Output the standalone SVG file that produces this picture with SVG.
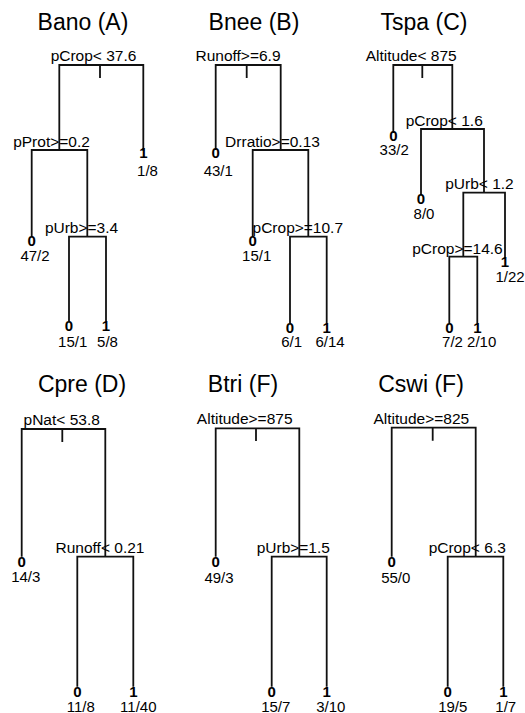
<svg xmlns="http://www.w3.org/2000/svg" width="525" height="713" viewBox="0 0 525 713">
<style>
text{font-family:"Liberation Sans",Arial,sans-serif;fill:#000;text-anchor:middle}
.t{font-size:23px}
.s{font-size:15.5px}
.c{font-size:15px;font-weight:bold}
.n{font-size:15px}
.e{fill:none;stroke:#111;stroke-width:1.8}
</style>
<rect width="525" height="713" fill="#fff"/>
<g id="titles">
<text class="t" x="83" y="30">Bano (A)</text>
<text class="t" x="254" y="30">Bnee (B)</text>
<text class="t" x="424" y="30">Tspa (C)</text>
<text class="t" x="82" y="392">Cpre (D)</text>
<text class="t" x="243" y="392">Btri (F)</text>
<text class="t" x="421" y="392">Cswi (F)</text>
</g>
<g id="connectors">
<!-- A -->
<path class="e" d="M100,65H59.3V150 M100,65H143.3V151 M100,65V78"/>
<path class="e" d="M59.5,150H31.7V236.7 M59.5,150H87.3V236.7"/>
<path class="e" d="M87.3,236.7H69V321 M87.3,236.7H106V321"/>
<!-- B -->
<path class="e" d="M246.7,65H215.7V150 M246.7,65H280.7V150 M246.7,65V78"/>
<path class="e" d="M280.7,150H252.7V236.7 M280.7,150H308.3V236.7"/>
<path class="e" d="M308.3,236.7H290V323 M308.3,236.7H326.7V323"/>
<!-- C -->
<path class="e" d="M422.3,65H393.3V133 M422.3,65H452.3V129 M422.3,65V78"/>
<path class="e" d="M452.3,129H421V195 M452.3,129H484V192.7"/>
<path class="e" d="M484,192.7H463.3V256.7 M484,192.7H505V258.3"/>
<path class="e" d="M463.3,256.7H449.3V323.3 M463.3,256.7H477.3V323.3"/>
<!-- D -->
<path class="e" d="M62.3,429H21.7V556.7 M62.3,429H105.3V556.7 M62.3,429V442"/>
<path class="e" d="M105.3,556.7H77.3V686.7 M105.3,556.7H133.3V686.7"/>
<!-- Btri -->
<path class="e" d="M256,428.3H215.7V556.7 M256,428.3H299.3V556.7 M256,428.3V441"/>
<path class="e" d="M299.3,556.7H271.7V686.7 M299.3,556.7H326.7V686.7"/>
<!-- Cswi -->
<path class="e" d="M432.7,427.7H391.7V556.7 M432.7,427.7H475.7V556.7 M432.7,427.7V440.7"/>
<path class="e" d="M475.7,556.7H447.7V686.7 M475.7,556.7H503.3V686.7"/>
</g>
<!-- A nodes -->
<g id="A_n1"><text class="s" x="93.5" y="61">pCrop&lt; 37.6</text></g>
<g id="A_n2"><text class="s" x="51.5" y="147">pProt&gt;=0.2</text></g>
<g id="A_n5"><text class="s" x="81.5" y="233">pUrb&gt;=3.4</text></g>
<g id="A_l4"><text class="c" x="31.7" y="245.5">0</text><text class="n" x="35" y="261">47/2</text></g>
<g id="A_l10"><text class="c" x="69" y="330.5">0</text><text class="n" x="72.7" y="346.5">15/1</text></g>
<g id="A_l11"><text class="c" x="106" y="330.5">1</text><text class="n" x="107.5" y="346.5">5/8</text></g>
<g id="A_l3"><text class="c" x="143.3" y="158">1</text><text class="n" x="147.5" y="176">1/8</text></g>
<!-- B nodes -->
<g id="B_n1"><text class="s" x="238" y="61">Runoff&gt;=6.9</text></g>
<g id="B_n3"><text class="s" x="272.5" y="147">Drratio&gt;=0.13</text></g>
<g id="B_n7"><text class="s" x="297.8" y="233">pCrop&gt;=10.7</text></g>
<g id="B_l2"><text class="c" x="215.7" y="158">0</text><text class="n" x="218.3" y="175.5">43/1</text></g>
<g id="B_l6"><text class="c" x="252.7" y="245.5">0</text><text class="n" x="256.7" y="261">15/1</text></g>
<g id="B_l14"><text class="c" x="290" y="332.5">0</text><text class="n" x="291.7" y="347">6/1</text></g>
<g id="B_l15"><text class="c" x="326.7" y="332.5">1</text><text class="n" x="330" y="347">6/14</text></g>
<!-- C nodes -->
<g id="C_n1"><text class="s" x="411.2" y="61">Altitude&lt; 875</text></g>
<g id="C_n3"><text class="s" x="444.2" y="125.7">pCrop&lt; 1.6</text></g>
<g id="C_n7"><text class="s" x="479.5" y="189.3">pUrb&lt; 1.2</text></g>
<g id="C_n14"><text class="s" x="457.5" y="254">pCrop&gt;=14.6</text></g>
<g id="C_l2"><text class="c" x="393.3" y="140.5">0</text><text class="n" x="394.2" y="155">33/2</text></g>
<g id="C_l6"><text class="c" x="421" y="204">0</text><text class="n" x="424" y="218.5">8/0</text></g>
<g id="C_l15"><text class="c" x="505" y="266.7">1</text><text class="n" x="510" y="281.5">1/22</text></g>
<g id="C_l28"><text class="c" x="449.3" y="332.5">0</text><text class="n" x="452.5" y="347">7/2</text></g>
<g id="C_l29"><text class="c" x="477.3" y="332.5">1</text><text class="n" x="481.7" y="347">2/10</text></g>
<!-- D nodes -->
<g id="D_n1"><text class="s" x="61.7" y="425">pNat&lt; 53.8</text></g>
<g id="D_n3"><text class="s" x="100" y="553.3">Runoff&lt; 0.21</text></g>
<g id="D_l2"><text class="c" x="21.7" y="566.7">0</text><text class="n" x="25.8" y="581.7">14/3</text></g>
<g id="D_l6"><text class="c" x="77.3" y="696.7">0</text><text class="n" x="80.8" y="711.5">11/8</text></g>
<g id="D_l7"><text class="c" x="133.3" y="696.7">1</text><text class="n" x="138.3" y="711.5">11/40</text></g>
<!-- Btri nodes -->
<g id="Bt_n1"><text class="s" x="244.7" y="424.3">Altitude&gt;=875</text></g>
<g id="Bt_n3"><text class="s" x="293.3" y="553.3">pUrb&gt;=1.5</text></g>
<g id="Bt_l2"><text class="c" x="215.7" y="566.7">0</text><text class="n" x="219" y="582.5">49/3</text></g>
<g id="Bt_l6"><text class="c" x="271.7" y="696.7">0</text><text class="n" x="275.8" y="711.5">15/7</text></g>
<g id="Bt_l7"><text class="c" x="326.7" y="696.7">1</text><text class="n" x="330.8" y="711.5">3/10</text></g>
<!-- Cswi nodes -->
<g id="Cs_n1"><text class="s" x="421.3" y="424.3">Altitude&gt;=825</text></g>
<g id="Cs_n3"><text class="s" x="467.2" y="553.3">pCrop&lt; 6.3</text></g>
<g id="Cs_l2"><text class="c" x="391.7" y="566.7">0</text><text class="n" x="395.8" y="582.5">55/0</text></g>
<g id="Cs_l6"><text class="c" x="447.7" y="696.7">0</text><text class="n" x="452.8" y="711.5">19/5</text></g>
<g id="Cs_l7"><text class="c" x="503.3" y="696.7">1</text><text class="n" x="505.8" y="711.5">1/7</text></g>
</svg>
